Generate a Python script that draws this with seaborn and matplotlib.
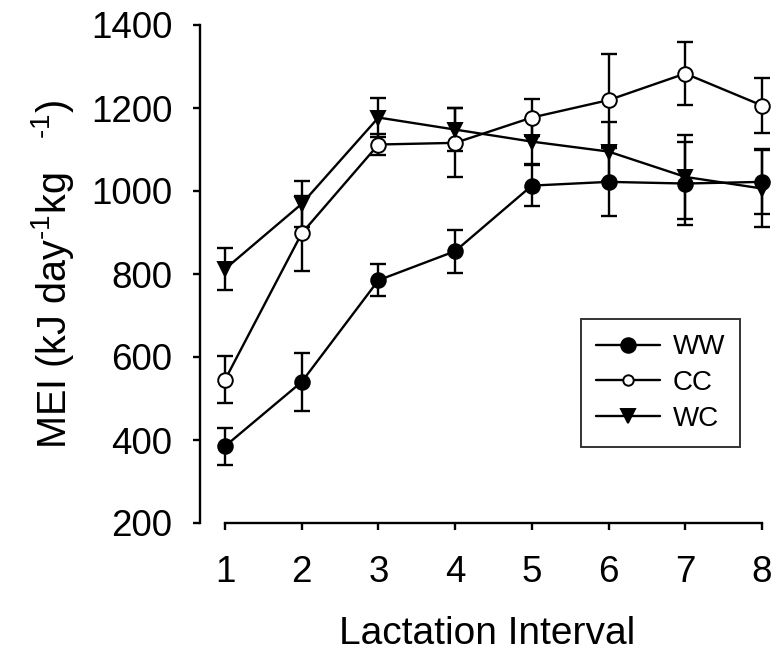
import numpy as np
import pandas as pd
import matplotlib
matplotlib.use("Agg")
import matplotlib.pyplot as plt
import seaborn as sns

# ---- data ----
interval = [1, 2, 3, 4, 5, 6, 7, 8]
ww_mean = [385, 540, 785, 855, 1013, 1022, 1018, 1022]
ww_err = [45, 70, 39, 52, 49, 82, 100, 78]
cc_mean = [545, 898, 1112, 1116, 1177, 1219, 1283, 1206]
cc_err = [57, 90, 26, 83, 44, 111, 75, 67]
wc_mean = [812, 969, 1177, 1148, 1119, 1095, 1034, 1006]
wc_err = [50, 56, 47, 52, 55, 72, 101, 92]
groups = ["WW", "CC", "WC"]
y_ticks = [200, 400, 600, 800, 1000, 1200, 1400]

sns.set_style("ticks")
plt.rcParams['font.family'] = ['Liberation Sans', 'DejaVu Sans']
plt.rcParams['mathtext.fontset'] = 'custom'
plt.rcParams['mathtext.rm'] = 'Liberation Sans'
plt.rcParams['mathtext.it'] = 'Liberation Sans'
plt.rcParams['text.color'] = 'black'
plt.rcParams['axes.labelcolor'] = 'black'
plt.rcParams['xtick.color'] = 'black'
plt.rcParams['ytick.color'] = 'black'

W, H = 778, 658
fig = plt.figure(figsize=(W / 100, H / 100), dpi=100)
left_px, right_px = 200, 774
bot_px, top_px = 523, 25
ax = fig.add_axes([left_px / W, (H - bot_px) / H, (right_px - left_px) / W, (bot_px - top_px) / H])

series = [
    ("WW", ww_mean, ww_err, dict(marker='o', markerfacecolor='black')),
    ("CC", cc_mean, cc_err, dict(marker='o', markerfacecolor='white')),
    ("WC", wc_mean, wc_err, dict(marker='v', markerfacecolor='black')),
]

lw = 1.7
for name, m, e, mk in series:
    df = pd.DataFrame({"x": interval, "y": m})
    ax.errorbar(df["x"], df["y"], yerr=e, fmt='none', ecolor='black',
                elinewidth=lw, capsize=6, capthick=lw, zorder=2, clip_on=False)
    sns.lineplot(data=df, x="x", y="y", ax=ax, color='black', linewidth=lw,
                 markersize=10.5, markeredgecolor='black', markeredgewidth=1.4,
                 label=name, zorder=3, clip_on=False, **mk)

ax.set_xlim(1 - 25 / 76.7, 8 + (right_px - 762) / 76.7)
ax.set_ylim(200, 1400)
ax.set_xticks(interval)
ax.set_yticks(y_ticks)
ax.spines['top'].set_visible(False)
ax.spines['right'].set_visible(False)
ax.spines['bottom'].set_bounds(1, 8)
ax.spines['left'].set_bounds(200, 1400)
for s in ['bottom', 'left']:
    ax.spines[s].set_linewidth(lw)
    ax.spines[s].set_color('black')
ax.tick_params(axis='both', direction='out', length=5, width=lw, colors='black', labelsize=26.5)
ax.tick_params(axis='y', pad=15)
ax.tick_params(axis='x', pad=18)

ax.set_xlabel("Lactation Interval", fontsize=28, labelpad=19)
ax.set_ylabel(r"MEI (kJ day$^{\text{-}1}$kg   $^{\text{-}1}$)", fontsize=28.5, labelpad=11)

leg = ax.legend(loc='upper left', bbox_to_anchor=((581 - left_px) / (right_px - left_px), (bot_px - 319) / (bot_px - top_px)),
                frameon=True, fancybox=False, edgecolor='black', fontsize=20,
                handlelength=2.3, handletextpad=0.45, borderpad=0.55, labelspacing=0.35,
                borderaxespad=0)
leg.get_frame().set_linewidth(1.4)
for h, ms in zip(leg.legend_handles, [10.5, 7.5, 10]):
    h.set_markersize(ms)

fig.savefig("out.png", dpi=100, facecolor='white')
